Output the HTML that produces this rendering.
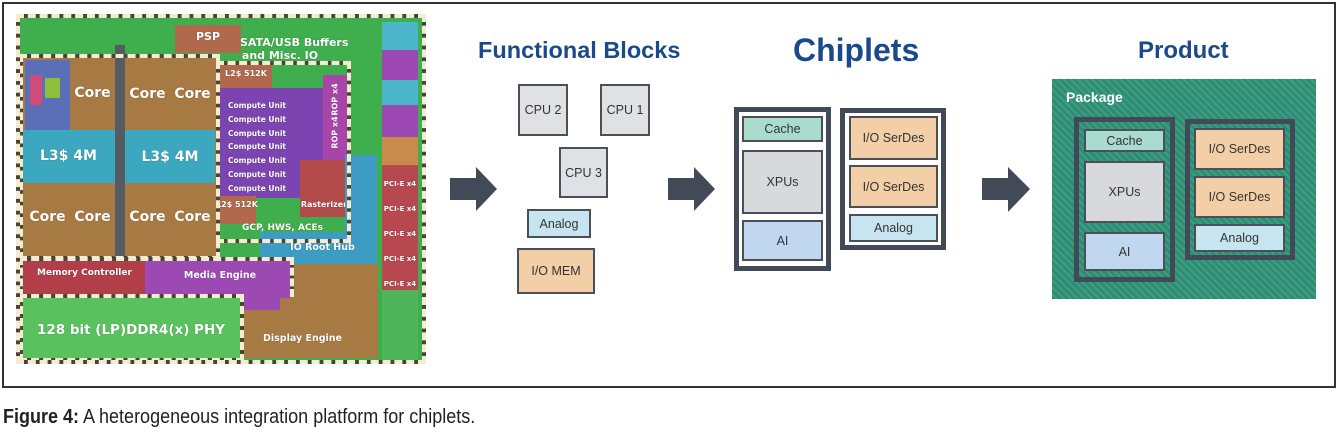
<!DOCTYPE html>
<html><head><meta charset="utf-8"><style>
*{margin:0;padding:0;box-sizing:border-box}
body{width:1338px;height:438px;background:#fff;position:relative;overflow:hidden;font-family:"Liberation Sans",sans-serif}
.a{position:absolute}
.t{position:absolute;color:#fff;font-family:"DejaVu Sans",sans-serif;font-weight:bold;white-space:nowrap;text-align:center;text-shadow:0 0 1px rgba(0,0,0,.4)}
.b{position:absolute;display:flex;align-items:center;justify-content:center;font-size:12.5px;color:#333;border:2px solid #4a4f5a}
.dk{position:absolute;border:4px solid #4a4338}
.dash{position:absolute;border:4px dashed #f4ecd0}
.fr{position:absolute;border:5px solid #434a57;background:#fff}
.arrow{position:absolute}
.g{background:#e0e1e4}.c{background:#a9dccf}.x{background:#d8d9dc}.ai{background:#c0d7ef}.io{background:#f2cfa6}.an{background:#c7e5f1}
h2{position:absolute;color:#1b4a8c;font-weight:bold;white-space:nowrap}
</style></head><body>
<div class="a" style="left:2px;top:2px;width:1334px;height:386px;border:2px solid #333"></div>

<!-- die -->
<div class="a" style="left:20px;top:18px;width:402px;height:342px;background:#3fae4c"></div>
<div class="a" style="left:175px;top:25px;width:66px;height:28px;background:#b0694c"></div>
<div class="t" style="left:175px;top:30px;width:66px;font-size:11px">PSP</div>
<div class="t" style="left:240px;top:36px;width:80px;font-size:11px;line-height:13px">SATA/USB Buffers<br>and Misc. IO</div>
<!-- CPU -->
<div class="a" style="left:22px;top:57px;width:195px;height:200px;background:#a87a43"></div>
<div class="a" style="left:25px;top:60px;width:45px;height:70px;background:#5a6fb8"></div>
<div class="a" style="left:30px;top:75px;width:12px;height:30px;background:#d04a7a"></div>
<div class="a" style="left:45px;top:78px;width:15px;height:20px;background:#8fbf3a"></div>
<div class="a" style="left:115px;top:45px;width:10px;height:212px;background:#555b63"></div>
<div class="a" style="left:22px;top:130px;width:193px;height:53px;background:#3ba8bf"></div>
<div class="a" style="left:115px;top:130px;width:10px;height:53px;background:#555b63"></div>
<div class="t" style="left:70px;top:85px;width:45px;font-size:14px">Core</div>
<div class="t" style="left:125px;top:86px;width:45px;font-size:14px">Core</div>
<div class="t" style="left:170px;top:86px;width:45px;font-size:14px">Core</div>
<div class="t" style="left:22px;top:148px;width:93px;font-size:14px">L3$ 4M</div>
<div class="t" style="left:125px;top:149px;width:90px;font-size:14px">L3$ 4M</div>
<div class="t" style="left:25px;top:209px;width:45px;font-size:14px">Core</div>
<div class="t" style="left:70px;top:209px;width:45px;font-size:14px">Core</div>
<div class="t" style="left:125px;top:209px;width:45px;font-size:14px">Core</div>
<div class="t" style="left:170px;top:209px;width:45px;font-size:14px">Core</div>
<!-- GPU -->
<div class="a" style="left:220px;top:64px;width:52px;height:24px;background:#b0694c"></div>
<div class="t" style="left:220px;top:69px;width:52px;font-size:8px">L2$ 512K</div>
<div class="a" style="left:220px;top:88px;width:106px;height:110px;background:#7c44b0"></div>
<div class="a" style="left:323px;top:75px;width:25px;height:85px;background:#a845a8"></div>
<div class="t" style="left:300px;top:95px;width:70px;font-size:8px;transform:rotate(-90deg)">ROP x4</div>
<div class="t" style="left:300px;top:128px;width:70px;font-size:8px;transform:rotate(-90deg)">ROP x4</div>
<div class="a" style="left:300px;top:160px;width:48px;height:57px;background:#b24a4a"></div>
<div class="t" style="left:300px;top:200px;width:48px;font-size:8px">Rasterizer</div>
<div class="t" style="left:222px;top:99px;width:70px;font-size:7.5px;line-height:13.8px">Compute Unit<br>Compute Unit<br>Compute Unit<br>Compute Unit<br>Compute Unit<br>Compute Unit<br>Compute Unit</div>
<div class="a" style="left:218px;top:196px;width:38px;height:28px;background:#b0694c"></div>
<div class="t" style="left:216px;top:200px;width:40px;font-size:8px">L2$ 512K</div>
<div class="t" style="left:235px;top:223px;width:95px;font-size:9px">GCP, HWS, ACEs</div>
<div class="a" style="left:345px;top:155px;width:32px;height:175px;background:#3c9cc4"></div>
<div class="a" style="left:260px;top:232px;width:117px;height:32px;background:#3c9cc4"></div>
<div class="t" style="left:275px;top:242px;width:95px;font-size:9.5px">IO Root Hub</div>
<!-- bottom -->
<div class="a" style="left:240px;top:264px;width:138px;height:94px;background:#a87a43"></div>
<div class="t" style="left:255px;top:333px;width:95px;font-size:9.5px">Display Engine</div>
<div class="a" style="left:22px;top:260px;width:128px;height:35px;background:#b23e4a"></div>
<div class="t" style="left:22px;top:268px;width:125px;font-size:9px">Memory Controller</div>
<div class="a" style="left:145px;top:258px;width:147px;height:40px;background:#9d49b3"></div>
<div class="a" style="left:240px;top:290px;width:40px;height:20px;background:#9d49b3"></div>
<div class="t" style="left:170px;top:270px;width:100px;font-size:9.5px">Media Engine</div>
<div class="a" style="left:22px;top:297px;width:218px;height:62px;background:#59c25e"></div>
<div class="t" style="left:22px;top:322px;width:218px;font-size:13.5px">128 bit (LP)DDR4(x) PHY</div>
<!-- right strip -->
<div class="a" style="left:382px;top:22px;width:36px;height:28px;background:#4cb6cb"></div>
<div class="a" style="left:382px;top:50px;width:36px;height:30px;background:#9d49b3"></div>
<div class="a" style="left:382px;top:80px;width:36px;height:25px;background:#4cb6cb"></div>
<div class="a" style="left:382px;top:105px;width:36px;height:32px;background:#9d49b3"></div>
<div class="a" style="left:382px;top:137px;width:36px;height:28px;background:#c98a4e"></div>
<div class="a" style="left:382px;top:165px;width:36px;height:125px;background:#b8484f"></div>
<div class="t" style="left:382px;top:172px;width:36px;font-size:7px;line-height:25px">PCI-E x4<br>PCI-E x4<br>PCI-E x4<br>PCI-E x4<br>PCI-E x4</div>
<div class="a" style="left:382px;top:290px;width:36px;height:70px;background:#4fb55a"></div>

<!-- dashed outlines -->
<div class="dk" style="left:19px;top:54px;width:201px;height:206px"></div>
<div class="dash" style="left:19px;top:54px;width:201px;height:206px"></div>
<div class="dk" style="left:216px;top:61px;width:135px;height:182px"></div>
<div class="dash" style="left:216px;top:61px;width:135px;height:182px"></div>
<div class="dk" style="left:19px;top:294px;width:225px;height:68px"></div>
<div class="dash" style="left:19px;top:294px;width:225px;height:68px"></div>
<div class="dk" style="left:19px;top:257px;width:275px;height:40px;border-bottom:none"></div>
<div class="dash" style="left:19px;top:257px;width:275px;height:40px;border-bottom:none"></div>
<div class="dk" style="left:16px;top:14px;width:410px;height:350px"></div>
<div class="dash" style="left:16px;top:14px;width:410px;height:350px"></div>

<svg class="arrow" style="left:0;top:0" width="1338" height="438">
<g fill="#434a57">
<polygon points="450,178 476,178 476,167 497,189 476,211 476,200 450,200"/>
<polygon points="668,178 694,178 694,167 715,189 694,211 694,200 668,200"/>
<polygon points="982,178 1008,178 1008,167 1030,189 1008,212 1008,200 982,200"/>
</g>
<defs><pattern id="hp" width="5" height="5" patternUnits="userSpaceOnUse" patternTransform="rotate(-45)"><rect width="5" height="5" fill="#2f8c72"/><rect width="2" height="5" fill="#3d9e84"/></pattern></defs>
<rect x="1052" y="79" width="264" height="220" fill="url(#hp)"/>
</svg>

<h2 style="left:478px;top:37px;font-size:23.5px">Functional Blocks</h2>
<h2 style="left:793px;top:32px;font-size:32px">Chiplets</h2>
<h2 style="left:1138px;top:37px;font-size:24px">Product</h2>

<div class="b g" style="left:518px;top:84px;width:50px;height:52px">CPU 2</div>
<div class="b g" style="left:600px;top:84px;width:50px;height:52px">CPU 1</div>
<div class="b g" style="left:559px;top:147px;width:49px;height:51px">CPU 3</div>
<div class="b an" style="left:527px;top:209px;width:64px;height:29px">Analog</div>
<div class="b io" style="left:517px;top:248px;width:78px;height:46px">I/O MEM</div>

<div class="fr" style="left:734px;top:107px;width:97px;height:164px"></div>
<div class="b c" style="left:742px;top:116px;width:81px;height:26px">Cache</div>
<div class="b x" style="left:742px;top:150px;width:81px;height:64px">XPUs</div>
<div class="b ai" style="left:742px;top:220px;width:81px;height:41px">AI</div>
<div class="fr" style="left:840px;top:108px;width:106px;height:142px"></div>
<div class="b io" style="left:849px;top:116px;width:89px;height:44px">I/O SerDes</div>
<div class="b io" style="left:849px;top:165px;width:89px;height:43px">I/O SerDes</div>
<div class="b an" style="left:849px;top:214px;width:89px;height:28px">Analog</div>

<div class="a" style="left:1066px;top:89px;color:#fff;font-weight:bold;font-size:14px">Package</div>
<div class="a" style="left:1074px;top:117px;width:101px;height:165px;border:5px solid #434a57"></div>
<div class="b c" style="left:1084px;top:129px;width:81px;height:23px">Cache</div>
<div class="b x" style="left:1084px;top:161px;width:81px;height:62px">XPUs</div>
<div class="b ai" style="left:1084px;top:232px;width:81px;height:39px">AI</div>
<div class="a" style="left:1185px;top:119px;width:110px;height:141px;border:5px solid #434a57"></div>
<div class="b io" style="left:1194px;top:128px;width:91px;height:42px">I/O SerDes</div>
<div class="b io" style="left:1194px;top:176px;width:91px;height:42px">I/O SerDes</div>
<div class="b an" style="left:1194px;top:224px;width:91px;height:28px">Analog</div>

<div class="a" style="left:3px;top:406px;font-size:20px;color:#222;white-space:nowrap;transform:scaleX(0.9);transform-origin:left top"><b>Figure 4:</b> A heterogeneous integration platform for chiplets.</div>
</body></html>
